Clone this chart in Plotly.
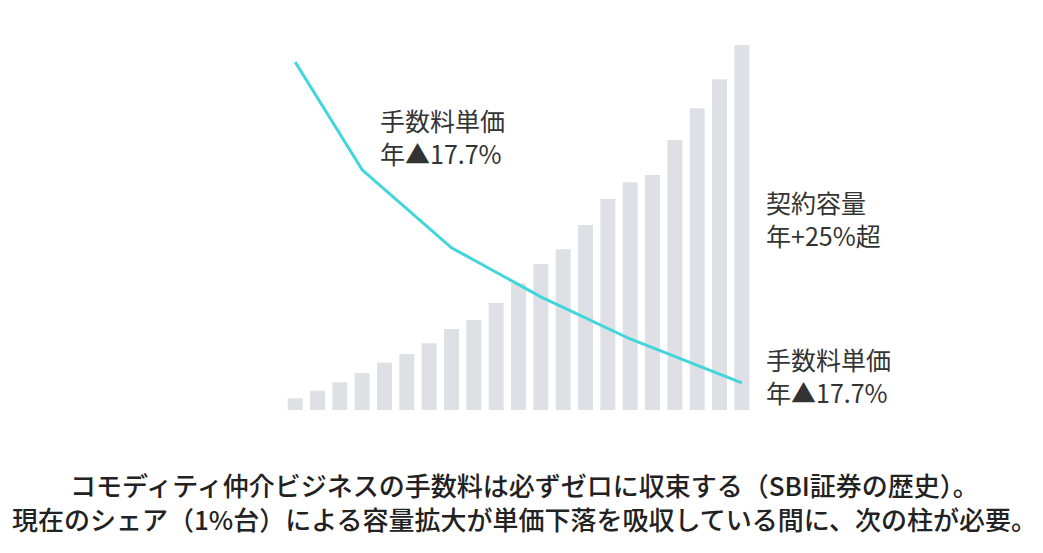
import plotly.graph_objects as go

# Data
periods = list(range(21))
capacity = [11.7, 19.3, 27.7, 37, 47.3, 56, 66.7, 81, 90, 107, 126.7, 146,
            160.7, 185, 211, 227.7, 235, 270, 301.7, 330.7, 365]
fee_unit_price = [100, 89.7, 79.3, 69.0, 63.4, 57.8, 52.2, 46.6, 43.1, 39.5,
                  36.0, 32.5, 29.5, 26.4, 23.4, 20.4, 17.9, 15.3, 12.8, 10.3, 7.8]

label_fee = "手数料単価<br>年▲17.7%"
label_cap = "契約容量<br>年+25%超"
caption = ("コモディティ仲介ビジネスの手数料は必ずゼロに収束する（SBI証券の歴史）。<br>"
           "現在のシェア（1%台）による容量拡大が単価下落を吸収している間に、次の柱が必要。")

FONT = "Noto Sans CJK JP"
TXT = "#333333"

# plot area (rendered pixels): left 284, top 40, width 469, height 370
PL, PT, PW, PH = 284, 40, 469, 370


def px(xp):
    return (xp - PL) / PW


def py(yp):
    return 1 - (yp - PT) / PH


fig = go.Figure()
fig.add_trace(go.Bar(x=periods, y=capacity, marker_color="#dfe0e5",
                     marker_line_width=0, width=0.67, yaxis="y",
                     hoverinfo="skip", showlegend=False))
fig.add_trace(go.Scatter(x=periods, y=fee_unit_price, mode="lines",
                         line=dict(color="#40d6dc", width=3), yaxis="y2",
                         hoverinfo="skip", showlegend=False))

fig.update_layout(
    width=1043, height=553,
    margin=dict(l=276, r=298, t=32, b=151),
    paper_bgcolor="white", plot_bgcolor="white",
    font=dict(family=FONT, color=TXT),
    xaxis=dict(range=[-0.5, 20.5], visible=False),
    yaxis=dict(range=[0, 370], visible=False),
    yaxis2=dict(range=[0, 106.3], overlaying="y", visible=False),
    annotations=[
        dict(text=label_fee, xref="paper", yref="paper", x=px(378),
             y=py(136), xanchor="left", yanchor="middle",
             align="left", showarrow=False, font=dict(size=25, color=TXT)),
        dict(text=label_cap, xref="paper", yref="paper", x=px(764),
             y=py(219), xanchor="left", yanchor="middle",
             align="left", showarrow=False, font=dict(size=25, color=TXT)),
        dict(text=label_fee, xref="paper", yref="paper", x=px(764),
             y=py(375), xanchor="left", yanchor="middle",
             align="left", showarrow=False, font=dict(size=25, color=TXT)),
        dict(text=caption, xref="paper", yref="paper", x=px(524),
             y=py(502), xanchor="center", yanchor="middle",
             align="center", showarrow=False,
             font=dict(size=26, color="#222222", weight=500)),
    ],
)

fig.write_html("out.html")
